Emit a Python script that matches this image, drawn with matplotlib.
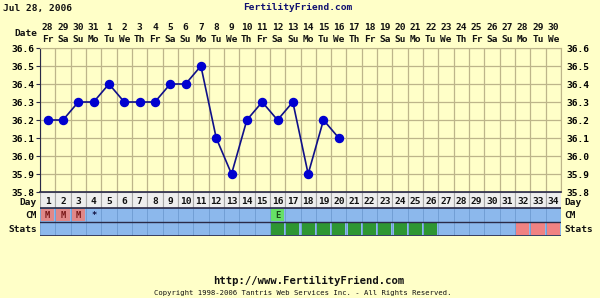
import matplotlib
matplotlib.use('Agg')
import matplotlib.pyplot as plt
import matplotlib.transforms as mtransforms
import numpy as np

# ---- data ----
days = list(range(1, 35))
dates = ['28', '29', '30', '31'] + [str(i) for i in range(1, 31)]
weekdays = (['Fr', 'Sa', 'Su', 'Mo', 'Tu', 'We', 'Th'] * 5)[:34]
temp_days = list(range(1, 21))
temps = [36.2, 36.2, 36.3, 36.3, 36.4, 36.3, 36.3, 36.3, 36.4, 36.4,
         36.5, 36.1, 35.9, 36.2, 36.3, 36.2, 36.3, 35.9, 36.2, 36.1]
yticks = [35.8, 35.9, 36.0, 36.1, 36.2, 36.3, 36.4, 36.5, 36.6]
cm_days = [1, 2, 3, 4, 16]
cm_codes = ['M', 'M', 'M', '*', 'E']
stats_green_days = list(range(16, 27))
stats_red_days = [32, 33, 34]

# ---- style ----
W, H = 600, 298
BG = '#FFFFC8'
GRID = '#BDB58A'
DARK = '#2A2A48'
BLUE_CELL = '#8CB8EC'
BLUE_EDGE = '#6F9CD4'
FONT = 'DejaVu Sans Mono'
FS = 6.8

fig = plt.figure(figsize=(W / 100, H / 100), dpi=100, facecolor=BG)

def fx(px):
    return px / W

def fy(py):
    return 1 - py / H

# main temperature axes
ax = fig.add_axes([fx(40), fy(192), fx(521), 144 / H])
ax.set_facecolor(BG)
ax.set_xlim(0.5, 34.5)
ax.set_ylim(35.8, 36.6)
ax.set_xticks(np.arange(0.5, 35, 1))
ax.set_yticks(yticks)
ax.set_yticklabels([f'{v:.1f}' for v in yticks])
ax.tick_params(axis='x', length=0, labelbottom=False)
ax.tick_params(axis='y', length=3, width=0.8, color=DARK, pad=1,
               labelleft=True, labelright=True, right=False,
               labelsize=FS)
for lab in ax.get_yticklabels():
    lab.set_fontfamily(FONT)
    lab.set_fontweight('bold')
ax.grid(True, color=GRID, linewidth=0.9)
ax.set_axisbelow(True)
ax.spines['left'].set_color(DARK)
ax.spines['bottom'].set_color(DARK)
ax.spines['bottom'].set_linewidth(1.2)
ax.spines['top'].set_color(GRID)
ax.spines['right'].set_color(GRID)

ax.plot(temp_days, temps, color='#101088', linewidth=1.2, marker='o',
        markersize=5.8, markerfacecolor='#0000D0', markeredgecolor='#0000D0',
        zorder=3, clip_on=False)

# header (dates / weekdays)
tr = mtransforms.blended_transform_factory(ax.transData, fig.transFigure)
for d, ds, wd in zip(days, dates, weekdays):
    ax.text(d, fy(27.5), ds, transform=tr, ha='center', va='center',
            fontsize=FS, fontweight='bold', family=FONT, color='#111111')
    ax.text(d, fy(39.3), wd, transform=tr, ha='center', va='center',
            fontsize=FS, fontweight='bold', family=FONT, color='#111111')
fig.text(fx(37), fy(33.5), 'Date', ha='right', va='center', fontsize=FS,
         fontweight='bold', family=FONT, color='#111111')

# rows axes (Day / CM / Stats)
ax2 = fig.add_axes([fx(40), fy(236), fx(521), 44 / H])
ax2.set_xlim(0.5, 34.5)
ax2.set_ylim(0, 44)
ax2.axis('off')
ax2.bar(days, 16, bottom=28, width=1, color='#EEEEEE', edgecolor='#A8A8A8',
        linewidth=0.8)
ax2.bar(days, 14, bottom=14, width=1, color=BLUE_CELL, edgecolor=BLUE_EDGE,
        linewidth=0.6)
ax2.bar(days, 14, bottom=0, width=1, color=BLUE_CELL, edgecolor=BLUE_EDGE,
        linewidth=0.6)
for d, c in zip(cm_days, cm_codes):
    if c == 'M':
        ax2.bar(d, 12, bottom=15, width=0.88, color='#E08888', linewidth=0)
        ax2.text(d, 20.5, c, ha='center', va='center', fontsize=6.3,
                 fontweight='bold', family=FONT, color='#7A1A1A')
    elif c == 'E':
        ax2.bar(d, 12, bottom=15, width=0.88, color='#66E066', linewidth=0)
        ax2.text(d, 20.5, c, ha='center', va='center', fontsize=6.3,
                 fontweight='bold', family=FONT, color='#1A4A1A')
    else:
        ax2.text(d, 20.5, c, ha='center', va='center', fontsize=6.3,
                 fontweight='bold', family=FONT, color='#101040')
ax2.bar(stats_green_days, 12, bottom=1, width=0.86, color='#2E9632', linewidth=0)
ax2.bar(stats_red_days, 12, bottom=1, width=0.86, color='#F08282', linewidth=0)
for d in days:
    ax2.text(d, 35, str(d), ha='center', va='center', fontsize=FS,
             fontweight='bold', family=FONT, color='#111111')
for yy, lw in [(44, 1.2), (28, 1.2), (14, 1.0), (0, 1.2)]:
    ax2.axhline(yy, color=DARK, linewidth=lw)

for label, py in [('Day', 202.5), ('CM', 216), ('Stats', 229.5)]:
    fig.text(fx(37), fy(py), label, ha='right', va='center', fontsize=FS,
             fontweight='bold', family=FONT, color='#111111')
    fig.text(fx(564), fy(py), label, ha='left', va='center', fontsize=FS,
             fontweight='bold', family=FONT, color='#111111')

# titles and footer
fig.text(fx(3), fy(8), 'Jul 28, 2006', ha='left', va='center', fontsize=FS,
         fontweight='bold', family=FONT, color='#111111')
fig.text(fx(298), fy(8), 'FertilityFriend.com', ha='center', va='center',
         fontsize=FS, fontweight='bold', family=FONT, color='#101070')
fig.text(fx(309), fy(281), 'http://www.FertilityFriend.com', ha='center',
         va='center', fontsize=7.6, fontweight='bold', family=FONT,
         color='#111111')
fig.text(fx(303), fy(293),
         'Copyright 1998-2006 Tantris Web Services Inc. - All Rights Reserved.',
         ha='center', va='center', fontsize=5.2, family=FONT, color='#111111')

fig.savefig('out.png', dpi=100, facecolor=BG)
